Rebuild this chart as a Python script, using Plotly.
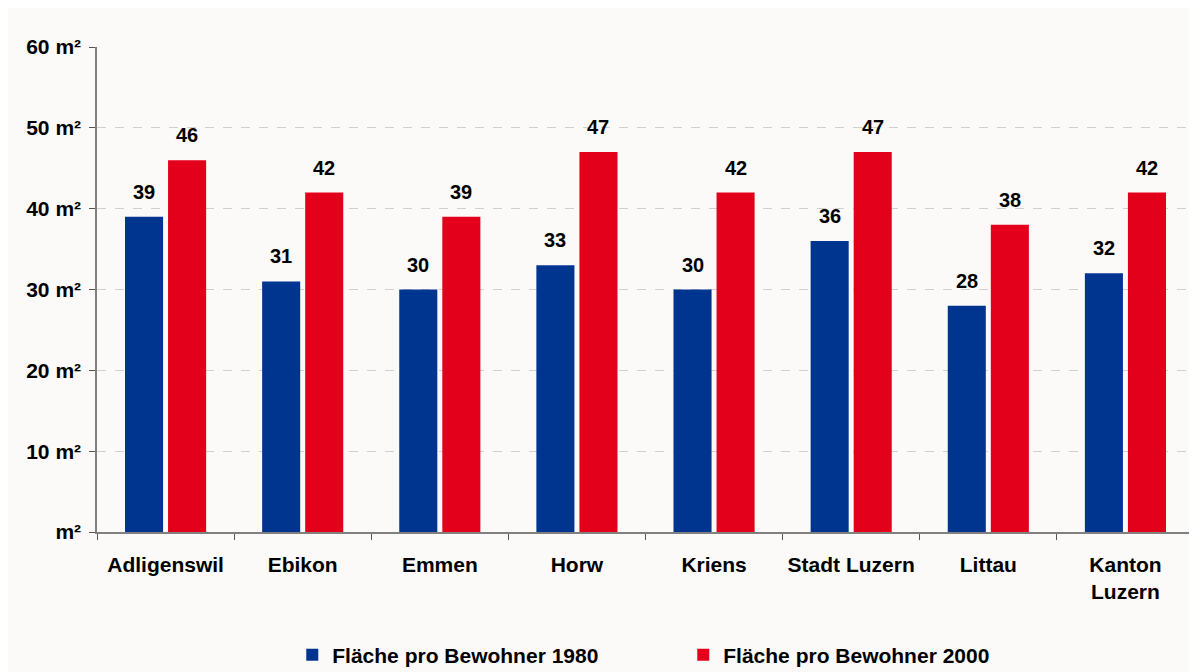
import plotly.graph_objects as go

# Wohnfläche pro Bewohner, 1980 vs. 2000
categories = ["Adligenswil", "Ebikon", "Emmen", "Horw", "Kriens",
              "Stadt Luzern", "Littau", "Kanton<br>Luzern"]
area_1980 = [39, 31, 30, 33, 30, 36, 28, 32]
area_2000 = [46, 42, 39, 47, 42, 47, 38, 42]
series_names = ["Fläche pro Bewohner 1980", "Fläche pro Bewohner 2000"]
y_tickvals = [0, 10, 20, 30, 40, 50, 60]
y_ticktext = ["m²", "10 m²", "20 m²", "30 m²", "40 m²", "50 m²", "60 m²"]

BLUE = "#00358f"
RED = "#e2001a"
PANEL = "#fbfaf9"
FONT = "Liberation Sans, Arial, sans-serif"

fig = go.Figure()
for name, values, color in ((series_names[0], area_1980, BLUE),
                            (series_names[1], area_2000, RED)):
    fig.add_trace(go.Bar(x=categories, y=values, name=name,
                         marker=dict(color=color, line=dict(width=0))))

# value labels above each bar (shifted to the bar position in its group)
slot_px = 43
for values, shift in ((area_1980, -slot_px / 2), (area_2000, slot_px / 2)):
    for cat, v in zip(categories, values):
        fig.add_annotation(x=cat, y=v, text=f"<b>{v}</b>", showarrow=False,
                           xshift=shift, yshift=12, yanchor="bottom",
                           font=dict(size=20, color="black", family=FONT))

# the page body adds an 8px margin, so the figure is sized to fit inside it
fig.update_layout(
    width=1189, height=664,
    margin=dict(l=89, r=3, t=39, b=140, autoexpand=False),
    paper_bgcolor=PANEL,
    plot_bgcolor=PANEL,
    barmode="group", bargap=0.372, bargroupgap=0.116,
    font=dict(family=FONT, size=21, color="black"),
    showlegend=True,
    legend=dict(orientation="h", x=0.178, xanchor="left", y=-0.254,
                yanchor="middle", entrywidth=346, bgcolor="rgba(0,0,0,0)",
                font=dict(size=21, family=FONT, weight="bold")),
)
fig.update_xaxes(showline=True, linecolor="#808080", linewidth=1.5,
                 ticks="outside", tickson="boundaries", ticklen=6,
                 tickcolor="#555555", showgrid=False, automargin=False,
                 tickfont=dict(size=21, weight="bold"), ticklabelstandoff=13)
fig.update_yaxes(range=[0, 60], tickvals=y_tickvals, ticktext=y_ticktext,
                 showline=True, linecolor="#808080", linewidth=1.5,
                 ticks="outside", ticklen=6, tickcolor="#555555",
                 showgrid=True, gridcolor="#d0d0d0", griddash="dash",
                 zeroline=False, automargin=False,
                 tickfont=dict(size=21, weight="bold"), ticklabelstandoff=4)

fig.write_html("out.html")
